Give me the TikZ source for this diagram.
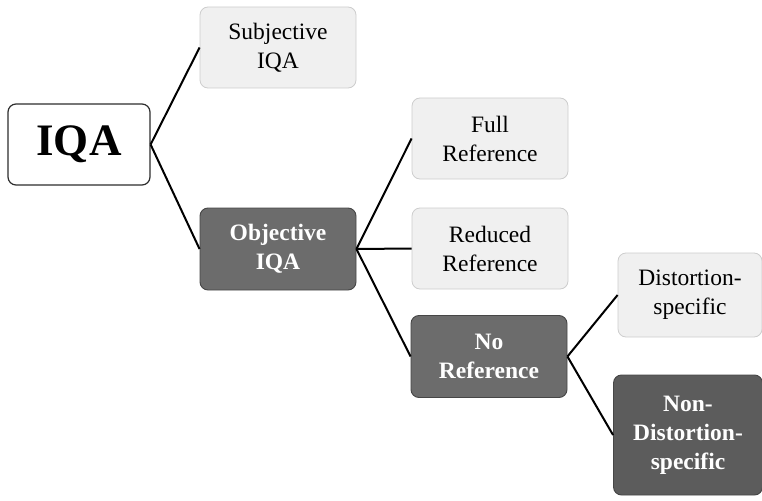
\documentclass[tikz,border=0pt]{standalone}
\usepackage{fontspec}
\setmainfont{Liberation Serif}
\usepackage{tikz}
\definecolor{lightfill}{RGB}{240,240,240}
\definecolor{lightline}{RGB}{205,205,205}
\definecolor{darkfill}{RGB}{108,108,108}
\definecolor{darkerfill}{RGB}{92,92,92}
\definecolor{darkline}{RGB}{70,70,70}
\definecolor{rootline}{RGB}{45,45,45}

\begin{document}
\begin{tikzpicture}[x=1pt,y=-1pt]
          \tikzstyle{root} = [draw=rootline, fill=white, rounded corners=8pt, line width=1.2pt, minimum width=142pt, minimum height=81pt, font=\fontsize{45}{50}\selectfont\bfseries]
          \tikzstyle{light} = [draw=lightline, fill=lightfill, rounded corners=8pt, line width=0.8pt, align=center, minimum width=156pt, minimum height=81pt, font=\fontsize{23.5}{29}\selectfont]
          \tikzstyle{dark} = [draw=darkline, fill=darkfill, rounded corners=8pt, line width=0.9pt, align=center, text=white, minimum width=156pt, minimum height=82pt, font=\fontsize{23.5}{29}\selectfont\bfseries]
          \tikzstyle{link} = [draw, black, line width=2pt]
        \useasboundingbox (0,0) rectangle (762,500);
        \node[root] (iqa) at (79,144.5) {IQA};
        \node[light] (sub) at (278,47.5) {Subjective\\IQA};
        \node[dark] (obj) at (278,249) {Objective\\IQA};
        \node[light] (full) at (490,138.5) {Full\\Reference};
        \node[light] (red) at (490,248.5) {Reduced\\Reference};
        \node[dark] (noref) at (489,356.5) {No\\Reference};
        \node[light, minimum width=144pt, minimum height=84pt] (dist) at (690,295) {Distortion-\\specific};
        \node[dark, fill=darkerfill, minimum width=149pt, minimum height=120pt] (nondist) at (688,435) {Non-\\Distortion-\\specific};
        \begin{scope}
          \draw[link] (iqa.east) -- (sub.west);
          \draw[link] (iqa.east) -- (obj.west);
          \draw[link] (obj.east) -- (full.west);
          \draw[link] (obj.east) -- (red.west);
          \draw[link] (obj.east) -- (noref.west);
          \draw[link] (noref.east) -- (dist.west);
          \draw[link] (noref.east) -- (nondist.west);
        \end{scope}
      \end{tikzpicture}
\end{document}
